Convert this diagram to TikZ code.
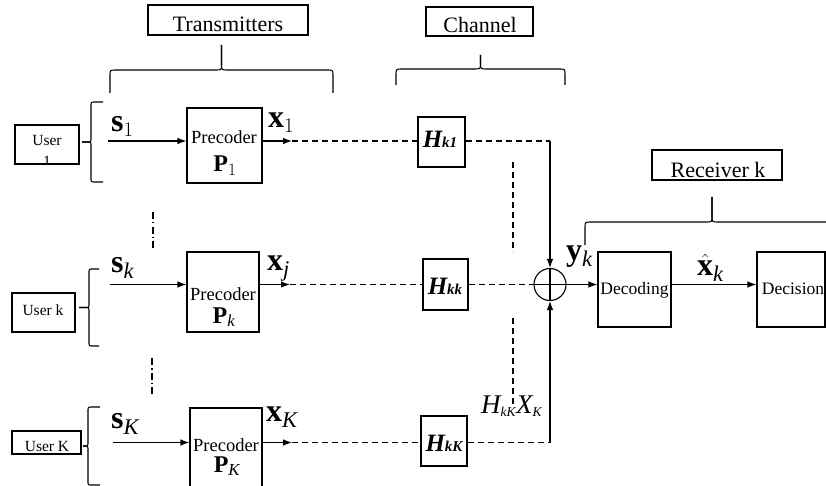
\documentclass[tikz,border=0pt]{standalone}
\usepackage{fontspec}
\setmainfont{Liberation Serif}
\usetikzlibrary{arrows.meta}
% #1 start point, #2 transform, #3 length, #4 offset of straight part, #5 tip height, #6 corner radius
\newcommand{\mybrace}[6]{%
  \begin{scope}[shift={#1},#2]
    \draw[brcl] (0,0) -- (0,{#4-#6}) .. controls (0,#4) .. (#6,#4)
      -- ({#3/2-#6},#4) .. controls ({#3/2},#4) .. ({#3/2},{#4+#6}) -- ({#3/2},{#4+#5});
    \draw[brcl] ({#3/2},{#4+#5}) -- ({#3/2},{#4+#6}) .. controls ({#3/2},#4) .. ({#3/2+#6},#4)
      -- ({#3-#6},#4) .. controls (#3,#4) .. (#3,{#4-#6}) -- (#3,0);
  \end{scope}}
\begin{document}
\begin{tikzpicture}[x=1pt,y=-1pt,
  box/.style={draw, line width=1.1pt, inner sep=0pt},
  lbl/.style={inner sep=0pt},
  arr/.style={line width=1.1pt, -{Latex[length=9pt,width=6.5pt]}},
  ln/.style={line width=1.1pt},
  brcl/.style={line width=1.1pt, line join=round},
  dsh/.style={line width=1.1pt, dash pattern=on 6pt off 4pt},
  ddot/.style={line width=1.1pt, dash pattern=on 7pt off 3pt on 1.5pt off 3pt},
  ttl/.style={lbl, font=\fontsize{22}{26}\selectfont, anchor=base},
  usr/.style={lbl, font=\fontsize{15.5}{18}\selectfont, anchor=base},
  prc/.style={lbl, font=\fontsize{18.5}{22}\selectfont, anchor=base},
  blk/.style={lbl, font=\fontsize{17.5}{21}\selectfont, anchor=base},
  mth/.style={lbl, font=\fontsize{32}{36}\selectfont, anchor=base west},
  pmt/.style={lbl, font=\fontsize{24}{28}\selectfont, anchor=base},
  hh/.style={lbl, font=\fontsize{25}{28}\selectfont\bfseries\itshape, anchor=base}
]
\clip (0,0) rectangle (826,486);
\fill[white] (0,0) rectangle (826,486);

% title boxes
\node[box, minimum width=160, minimum height=30] (trans) at (228,20) {};
\node[ttl] (transt) at (228,32) {Transmitters};
\node[box, minimum width=107, minimum height=29] (chan) at (479.5,21.5) {};
\node[ttl] (chant) at (480,33) {Channel};
\node[box, minimum width=130, minimum height=30] (recv) at (717,165) {};
\node[ttl] (recvt) at (718,178) {Receiver k};

% braces
\mybrace{(110,93)}{yscale=-1}{223}{23}{25}{6}
\mybrace{(396,85)}{yscale=-1}{169}{16}{14}{6}
\mybrace{(585,245)}{yscale=-1}{254}{23}{25}{6}
\mybrace{(103,102)}{rotate=-90}{80}{12}{9}{4}
\mybrace{(99,269)}{rotate=-90}{77}{10}{10}{4}
\mybrace{(100,407)}{rotate=-90}{78}{12}{5}{4}

% users
\node[box, minimum width=64, minimum height=39] (u1) at (47,144.5) {};
\node[usr] (u1t) at (47,146) {User};
\begin{scope}
\clip (u1.south west) rectangle (u1.north east);
\node[usr] (u1n) at (47,167) {1};
\end{scope}
\node[box, minimum width=63, minimum height=39] (uk) at (43.5,312.5) {};
\node[usr] (ukt) at (43,315) {User k};
\node[box, minimum width=69, minimum height=23] (uK) at (46.5,442.5) {};
\node[usr] (uKt) at (47,451) {User K};

% precoders
\node[box, minimum width=75, minimum height=75] (p1) at (224.5,145.5) {};
\node[prc] (p1t) at (224,144) {Precoder};
\node[pmt] (p1m) at (225,172) {$\mathbf{P}_1$};
\node[box, minimum width=72, minimum height=80] (pk) at (223,292) {};
\node[prc] (pkt) at (223,300) {Precoder};
\node[pmt] (pkm) at (224,323) {$\mathbf{P}_{\mathit{k}}$};
\node[box, minimum width=72, minimum height=80] (pK) at (226,448) {};
\node[prc] (pKt) at (226,451.5) {Precoder};
\node[pmt] (pKm) at (227,472) {$\mathbf{P}_{\mathit{K}}$};

% channel blocks
\node[box, minimum width=47, minimum height=50] (h1) at (441.5,142) {};
\node[hh] (h1t) at (440,148) {H{\fontsize{15}{15}\selectfont k1}};
\node[box, minimum width=45, minimum height=51] (hk) at (445.5,284.5) {};
\node[hh] (hkt) at (445,294) {H{\fontsize{15}{15}\selectfont kk}};
\node[box, minimum width=46, minimum height=50] (hK) at (444,441) {};
\node[hh] (hKt) at (444,451) {H{\fontsize{15}{15}\selectfont kK}};

% receiver
\node[circle, draw, line width=1.1pt, minimum size=32, inner sep=0pt] (sum) at (550,284.5) {};
\draw[ln] (sum.north) -- (sum.south) (sum.west) -- (sum.east);
\node[box, minimum width=73, minimum height=75] (dec) at (634.5,289.5) {};
\node[blk] (dect) at (634.5,294) {Decoding};
\node[box, minimum width=68, minimum height=75] (dcs) at (791,289.5) {};
\node[blk] (dcst) at (793,294) {Decision};

% math labels
\node[mth] (s1) at (111,132) {$\mathbf{s}_1$};
\node[mth] (x1) at (268,128) {$\mathbf{x}_1$};
\node[mth] (sk) at (111,272) {$\mathbf{s}_{\mathit{k}}$};
\node[mth] (xj) at (267,270) {$\mathbf{x}_{\mathit{j}}$};
\node[mth] (sK) at (111,428) {$\mathbf{s}_{\mathit{K}}$};
\node[mth] (xK) at (266,421) {$\mathbf{x}_{\mathit{K}}$};
\node[mth] (yk) at (566,260) {$\mathbf{y}_{\mathit{k}}$};
\node[mth] (xh) at (697,275) {$\hat{\mathbf{x}}_{\mathit{k}}$};
\node[lbl, font=\fontsize{27}{30}\selectfont, anchor=base west] (hx) at (481,413) {$\mathit{H}_{\mathit{\scriptscriptstyle kK}}\mathit{X}_{\mathit{\scriptscriptstyle K}}$};

% coordinates
\coordinate (a1) at (108,141);
\coordinate (ak) at (110,284.5);
\coordinate (aK) at (113,442.5);
\coordinate (b1) at (292,141);
\coordinate (bk) at (290,284.5);
\coordinate (bK) at (292,442.5);
\coordinate (c1) at (550,141);
\coordinate (cK) at (550,442.5);

% row 1
\draw[arr] (a1) -- (a1 -| p1.west);
\draw[arr] (b1 -| p1.east) -- (b1);
\draw[dsh] (b1) -- (b1 -| h1.west);
\draw[dsh] (c1 -| h1.east) -- (c1);
\draw[arr] (c1) -- (sum.north);
% row k
\draw[arr] (ak) -- (ak -| pk.west);
\draw[arr] (bk -| pk.east) -- (bk);
\draw[dsh] (bk) -- (hk.west);
\draw[dsh] (hk.east) -- (sum.west);
% row K
\draw[arr] (aK) -- (aK -| pK.west);
\draw[arr] (bK -| pK.east) -- (bK);
\draw[dsh] (bK) -- (bK -| hK.west);
\draw[dsh] (cK -| hK.east) -- (cK);
\draw[arr] (cK) -- (sum.south);
% receiver chain
\draw[arr] (sum.east) -- (sum.east -| dec.west);
\draw[arr] (sum.east -| dec.east) -- (sum.east -| dcs.west);

% continuation marks
\coordinate (d1) at (153,212);
\coordinate (d2) at (153,250);
\coordinate (d3) at (152,358);
\coordinate (d4) at (152,397);
\draw[ddot] (d1) -- (d2);
\draw[ddot] (d3) -- (d4);
\coordinate (e1) at (513,162);
\coordinate (e2) at (513,252);
\coordinate (e3) at (513,318);
\coordinate (e4) at (513,407);
\draw[dsh] (e1) -- (e2);
\draw[dsh] (e3) -- (e4);
\end{tikzpicture}
\end{document}
